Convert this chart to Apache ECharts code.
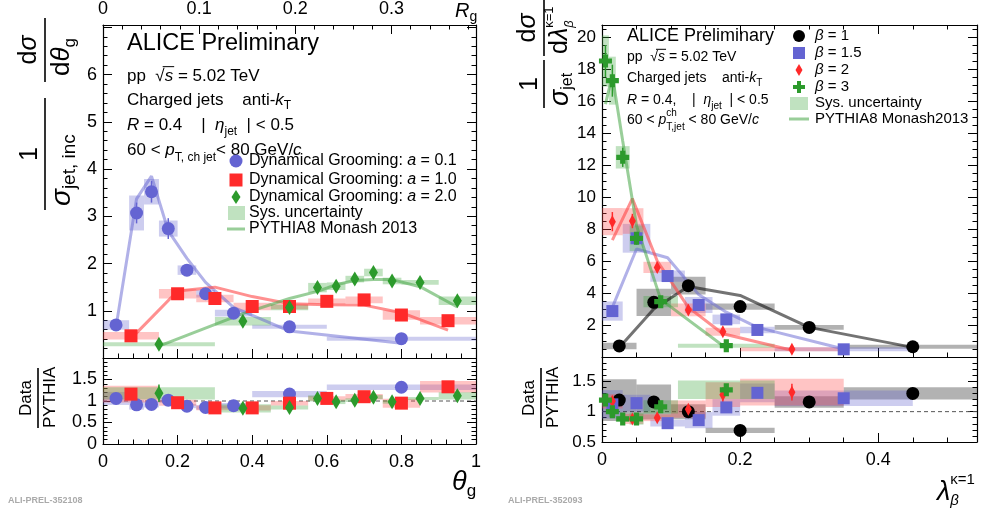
<!DOCTYPE html>
<html><head><meta charset="utf-8">
<script src="https://cdn.jsdelivr.net/npm/echarts@6/dist/echarts.min.js"></script>
<style>html,body{margin:0;padding:0;background:#fff}#c{width:982px;height:514px}</style>
</head><body><div id="c"></div>
<script>
// ---------- Dynamical grooming, theta_g (left) ----------
const a01Lo = [0, 0.07, 0.11, 0.15, 0.2, 0.25, 0.3, 0.4, 0.6];
const a01Hi = [0.07, 0.11, 0.15, 0.2, 0.25, 0.3, 0.4, 0.6, 1.0];
const a01X = [0.035, 0.09, 0.13, 0.175, 0.225, 0.275, 0.35, 0.5, 0.8];
const a01Y = [0.70, 3.07, 3.52, 2.74, 1.86, 1.36, 0.95, 0.66, 0.41];
const a01Stat = [0.04, 0.22, 0.23, 0.22, 0.09, 0.06, 0.04, 0.03, 0.02];
const a01Sys = [0.10, 0.37, 0.27, 0.17, 0.10, 0.08, 0.07, 0.04, 0.02];
const a01Pythia = [0.66, 3.37, 3.85, 2.69, 2.11, 1.6, 1.07, 0.57, 0.31];
const a01Ratio = [1.06, 0.91, 0.92, 1.02, 0.88, 0.85, 0.89, 1.16, 1.32];

const a10Lo = [0, 0.15, 0.25, 0.35, 0.45, 0.55, 0.65, 0.75, 0.85];
const a10Hi = [0.15, 0.25, 0.35, 0.45, 0.55, 0.65, 0.75, 0.85, 1.0];
const a10X = [0.075, 0.2, 0.3, 0.4, 0.5, 0.6, 0.7, 0.8, 0.925];
const a10Y = [0.47, 1.36, 1.26, 1.09, 1.09, 1.20, 1.23, 0.91, 0.79];
const a10Stat = [0.03, 0.05, 0.04, 0.04, 0.04, 0.04, 0.04, 0.04, 0.04];
const a10Sys = [0.08, 0.10, 0.08, 0.08, 0.06, 0.06, 0.07, 0.10, 0.08];
const a10Pythia = [0.41, 1.42, 1.5, 1.3, 1.15, 1.13, 1.12, 0.96, 0.59];
const a10Ratio = [1.16, 0.96, 0.84, 0.84, 0.95, 1.06, 1.10, 0.95, 1.33];

const a20Lo = [0, 0.3, 0.45, 0.55, 0.6, 0.65, 0.7, 0.75, 0.8, 0.9];
const a20Hi = [0.3, 0.45, 0.55, 0.6, 0.65, 0.7, 0.75, 0.8, 0.9, 1.0];
const a20X = [0.15, 0.375, 0.5, 0.575, 0.625, 0.675, 0.725, 0.775, 0.85, 0.95];
const a20Y = [0.29, 0.78, 1.07, 1.49, 1.52, 1.67, 1.81, 1.63, 1.60, 1.21];
const a20Stat = [0.05, 0.06, 0.06, 0.09, 0.09, 0.09, 0.10, 0.10, 0.07, 0.08];
const a20Sys = [0.035, 0.09, 0.06, 0.10, 0.08, 0.07, 0.08, 0.07, 0.05, 0.09];
const a20Pythia = [0.25, 0.94, 1.26, 1.41, 1.55, 1.64, 1.66, 1.66, 1.51, 1.08];
const a20Ratio = [1.18, 0.83, 0.85, 1.06, 0.98, 1.02, 1.09, 0.98, 1.06, 1.12];

// ---------- Angularities, lambda_beta (right) ----------
const b1Lo = [0, 0.05, 0.1, 0.15, 0.25, 0.35];
const b1Hi = [0.05, 0.1, 0.15, 0.25, 0.35, 0.55];
const b1X = [0.025, 0.075, 0.125, 0.2, 0.3, 0.45];
const b1Y = [0.69, 3.42, 4.46, 3.15, 1.85, 0.64];
const b1Stat = [0.05, 0.12, 0.12, 0.08, 0.05, 0.03];
const b1Sys = [0.2, 0.85, 0.55, 0.2, 0.15, 0.05];
const b1Pythia = [0.6, 3.0, 4.4, 3.85, 1.85, 0.6];
const b1Ratio = [1.19, 1.16, 1.0, 0.69, 1.16, 1.3];

const b15Lo = [0, 0.03, 0.07, 0.12, 0.16, 0.2, 0.25];
const b15Hi = [0.03, 0.07, 0.12, 0.16, 0.2, 0.25, 0.45];
const b15X = [0.015, 0.05, 0.095, 0.14, 0.18, 0.225, 0.35];
const b15Y = [2.87, 7.42, 5.06, 3.25, 2.35, 1.69, 0.48];
const b15Stat = [0.1, 0.15, 0.1, 0.08, 0.06, 0.05, 0.02];
const b15Sys = [0.6, 0.9, 0.35, 0.5, 0.3, 0.2, 0.05];
const b15Pythia = [3.1, 6.75, 6.2, 3.9, 2.8, 1.85, 0.5];
const b15Ratio = [1.12, 1.14, 0.81, 0.86, 1.07, 1.31, 1.22];

const b2Lo = [0, 0.03, 0.06, 0.1, 0.15, 0.2];
const b2Hi = [0.03, 0.06, 0.1, 0.15, 0.2, 0.35];
const b2X = [0.015, 0.044, 0.08, 0.125, 0.175, 0.275];
const b2Y = [8.46, 8.5, 5.6, 2.94, 1.58, 0.48];
const b2Stat = [0.6, 0.45, 0.3, 0.2, 0.15, 0.05];
const b2Sys = [0.85, 0.8, 0.35, 0.4, 0.25, 0.08];
const b2Pythia = [7.3, 9.9, 6.0, 3.1, 1.45, 0.42];
const b2Ratio = [1.17, 0.88, 0.9, 1.04, 1.28, 1.32];

const b3Lo = [0, 0.01, 0.02, 0.04, 0.06, 0.11];
const b3Hi = [0.01, 0.02, 0.04, 0.06, 0.11, 0.25];
const b3X = [0.005, 0.015, 0.03, 0.05, 0.085, 0.18];
const b3Y = [18.5, 17.27, 12.48, 7.42, 3.46, 0.71];
const b3Stat = [1.0, 1.0, 0.6, 0.4, 0.2, 0.05];
const b3Sys = [1.6, 1.5, 0.7, 0.8, 0.35, 0.08];
const b3Pythia = [15.8, 17.6, 13.5, 8.2, 3.6, 0.55];
const b3Ratio = [1.19, 1.0, 0.88, 0.88, 1.08, 1.36];

// axis ranges
const thetaRange = [0, 1];
const lambdaRange = [0, 0.543];

// ---------- drawing ----------
const FAMILY = "'Liberation Sans', Arial, Helvetica, sans-serif";
const chart = echarts.init(document.getElementById('c'), null, {renderer: 'canvas'});
const mctx = document.createElement('canvas').getContext('2d');
function fontOf(s) { return (s.it ? 'italic ' : '') + (s.b ? 'bold ' : '') + s.size + 'px ' + FAMILY; }
function tw(t, font) { mctx.font = font; return mctx.measureText(t).width; }

// lays out a sequence of text pieces along one row
function run(x, y, segs, out, defSize) {
  let cx = x;
  segs.forEach(s => {
    if (!s.size) s.size = defSize;
    const font = fontOf(s);
    if (s.t) {
      out.push({type: 'text', x: cx, y: y + (s.dy || 0), silent: true,
        style: {text: s.t, font: font, fill: s.c || '#000', textVerticalAlign: 'middle', verticalAlign: 'middle'}});
    }
    if (s.over) {
      out.push({type: 'line', silent: true, shape: {x1: cx - 2, y1: y - s.size * 0.55, x2: cx + tw(s.t, font) + 1, y2: y - s.size * 0.55}, style: {stroke: '#000', lineWidth: 1}});
    }
    if (!s.noAdvance) cx += tw(s.t || '', font) + (s.sp || 0);
  });
  return cx;
}
function runWidth(segs, defSize) {
  let w = 0;
  segs.forEach(s => { if (!s.noAdvance) w += tw(s.t || '', fontOf(Object.assign({size: defSize}, s))) + (s.sp || 0); });
  return w;
}
function runCentered(cx, y, segs, out, defSize) { return run(cx - runWidth(segs, defSize) / 2, y, segs, out, defSize); }

const BLUE = '#6464d2', RED = '#ff2a2a', GREEN = '#2c9a2c';
const BLUE_BOX = 'rgba(100,100,205,0.32)', RED_BOX = 'rgba(255,70,70,0.32)', GREEN_BOX = 'rgba(60,165,60,0.32)', BLACK_BOX = 'rgba(0,0,0,0.3)';
const BLUE_LINE = 'rgba(100,100,210,0.5)', RED_LINE = 'rgba(255,70,70,0.6)', GREEN_LINE = 'rgba(70,165,70,0.55)', BLACK_LINE = 'rgba(0,0,0,0.55)';
const CROSS = 'path://M3,0H7V3H10V7H7V10H3V7H0V3H3Z';

function boxSeries(xi, yi, lo, hi, val, sys, color, minH) {
  return {type: 'custom', xAxisIndex: xi, yAxisIndex: yi, clip: true, silent: true, z: 2, animation: false,
    data: lo.map((l, i) => [l, hi[i], val[i], sys[i]]),
    encode: {x: [0, 1], y: 2},
    renderItem: (p, api) => {
      const a = api.coord([api.value(0), api.value(2) + api.value(3)]);
      const b = api.coord([api.value(1), api.value(2) - api.value(3)]);
      let h = b[1] - a[1], y = a[1];
      if (h < minH) { y -= (minH - h) / 2; h = minH; }
      return {type: 'rect', shape: {x: a[0], y: y, width: b[0] - a[0], height: h}, style: {fill: color}};
    }};
}
function errSeries(xi, yi, x, val, err, color) {
  return {type: 'custom', xAxisIndex: xi, yAxisIndex: yi, clip: true, silent: true, z: 4, animation: false,
    data: x.map((xx, i) => [xx, val[i] - err[i], val[i] + err[i]]),
    encode: {x: 0, y: [1, 2]},
    renderItem: (p, api) => {
      const a = api.coord([api.value(0), api.value(1)]);
      const b = api.coord([api.value(0), api.value(2)]);
      return {type: 'line', shape: {x1: a[0], y1: a[1], x2: b[0], y2: b[1]}, style: {stroke: color, lineWidth: 1.5}};
    }};
}
function markSeries(xi, yi, x, val, symbol, size, color) {
  return {type: 'scatter', xAxisIndex: xi, yAxisIndex: yi, symbol: symbol, symbolSize: size, silent: true, z: 5,
    animation: false, itemStyle: {color: color, opacity: 1}, data: x.map((xx, i) => [xx, val[i]])};
}
function lineSeries(xi, yi, x, val, color) {
  return {type: 'line', xAxisIndex: xi, yAxisIndex: yi, symbol: 'none', silent: true, z: 3, animation: false,
    lineStyle: {color: color, width: 3}, data: x.map((xx, i) => [xx, val[i]])};
}
function ratioSys(val, sys, ratio) { return ratio.map((r, i) => r * sys[i] / val[i]); }

function dataset(xiM, yiM, xiR, yiR, lo, hi, x, y, stat, sys, py, ratio, sym, size, col, boxCol, lineCol, minH) {
  const rs = ratioSys(y, sys, ratio);
  const rstat = ratio.map((r, i) => r * stat[i] / y[i]);
  return {
    boxes: [boxSeries(xiM, yiM, lo, hi, y, sys, boxCol, minH), boxSeries(xiR, yiR, lo, hi, ratio, rs, boxCol, 3)],
    lines: [lineSeries(xiM, yiM, x, py, lineCol)],
    marks: [errSeries(xiM, yiM, x, y, stat, col), markSeries(xiM, yiM, x, y, sym, size, col),
            errSeries(xiR, yiR, x, ratio, rstat, col), markSeries(xiR, yiR, x, ratio, sym, size, col)]
  };
}

function minor(n) { return {show: true, splitNumber: n, length: 4.5, lineStyle: {color: '#000'}}; }
function xAxis(grid, min, max, interval, opt) {
  return Object.assign({type: 'value', gridIndex: grid, min: min, max: max, interval: interval,
    axisLine: {show: true, onZero: false, lineStyle: {color: '#000', width: 1.2}},
    axisTick: {show: true, inside: true, length: 9, lineStyle: {color: '#000'}},
    minorTick: minor(5), splitLine: {show: false}, minorSplitLine: {show: false},
    axisLabel: {show: false}}, opt || {});
}
function yAxis(grid, min, max, interval, opt) {
  return Object.assign({type: 'value', gridIndex: grid, min: min, max: max, interval: interval,
    axisLine: {show: true, onZero: false, lineStyle: {color: '#000', width: 1.2}},
    axisTick: {show: true, inside: true, length: 9, lineStyle: {color: '#000'}},
    minorTick: minor(5), splitLine: {show: false}, minorSplitLine: {show: false},
    axisLabel: {show: false}}, opt || {});
}
function lbl(extra) { return Object.assign({show: true, color: '#000', fontSize: 18, fontFamily: FAMILY, margin: 6}, extra); }
const numFmt = v => String(+v.toFixed(2));

const grids = [
  {left: 103, top: 25, width: 373, height: 333},
  {left: 103, top: 358, width: 373, height: 86},
  {left: 602, top: 25, width: 375, height: 332},
  {left: 602, top: 357, width: 375, height: 85}
];
const xAxes = [
  xAxis(0, thetaRange[0], thetaRange[1], 0.2),                                       // 0 left main bottom
  xAxis(0, 0, 0.388, 0.1, {position: 'top',
    axisLabel: lbl({margin: 7, showMaxLabel: false, formatter: numFmt})}),           // 1 R_g on top
  xAxis(1, thetaRange[0], thetaRange[1], 0.2, {axisLabel: lbl({margin: 9, formatter: numFmt})}), // 2 left ratio
  xAxis(2, lambdaRange[0], lambdaRange[1], 0.2, {minorTick: minor(4)}),             // 3 right main bottom
  xAxis(2, lambdaRange[0], lambdaRange[1], 0.2, {position: 'top', minorTick: minor(4)}), // 4 right main top
  xAxis(3, lambdaRange[0], lambdaRange[1], 0.2, {minorTick: minor(4),
    axisLabel: lbl({margin: 9, showMaxLabel: false, formatter: numFmt})})            // 5 right ratio
];
const yAxes = [
  yAxis(0, 0, 7.05, 1, {axisLabel: lbl({formatter: v => (v < 0.5 || v > 6.5 ? '' : String(v))})}), // 0
  yAxis(0, 0, 7.05, 1, {position: 'right'}),                                             // 1
  yAxis(1, 0, 2, 0.5, {axisLabel: lbl({formatter: numFmt, showMaxLabel: false})}),       // 2
  yAxis(1, 0, 2, 0.5, {position: 'right'}),                                              // 3
  yAxis(2, 0, 20.75, 2, {minorTick: minor(4),
    axisLabel: lbl({formatter: v => (v < 1 || v > 20.5 ? '' : String(v)), fontSize: 17})}), // 4
  yAxis(2, 0, 20.75, 2, {position: 'right', minorTick: minor(4)}),                     // 5
  yAxis(3, 0.5, 1.9, 0.5, {axisLabel: lbl({formatter: numFmt, showMaxLabel: false, fontSize: 17})}), // 6
  yAxis(3, 0.5, 1.9, 0.5, {position: 'right'})                                           // 7
];

const L1 = dataset(0, 0, 2, 2, a01Lo, a01Hi, a01X, a01Y, a01Stat, a01Sys, a01Pythia, a01Ratio, 'circle', 13, BLUE, BLUE_BOX, BLUE_LINE, 4);
const L2 = dataset(0, 0, 2, 2, a10Lo, a10Hi, a10X, a10Y, a10Stat, a10Sys, a10Pythia, a10Ratio, 'rect', 13, RED, RED_BOX, RED_LINE, 4);
const L3 = dataset(0, 0, 2, 2, a20Lo, a20Hi, a20X, a20Y, a20Stat, a20Sys, a20Pythia, a20Ratio, 'diamond', [9, 15], GREEN, GREEN_BOX, GREEN_LINE, 4);
const R1 = dataset(3, 4, 5, 6, b1Lo, b1Hi, b1X, b1Y, b1Stat, b1Sys, b1Pythia, b1Ratio, 'circle', 13, '#000', BLACK_BOX, BLACK_LINE, 4);
const R2 = dataset(3, 4, 5, 6, b15Lo, b15Hi, b15X, b15Y, b15Stat, b15Sys, b15Pythia, b15Ratio, 'rect', 12, BLUE, BLUE_BOX, BLUE_LINE, 4);
const R3 = dataset(3, 4, 5, 6, b2Lo, b2Hi, b2X, b2Y, b2Stat, b2Sys, b2Pythia, b2Ratio, 'diamond', [7, 13], RED, RED_BOX, RED_LINE, 4);
const R4 = dataset(3, 4, 5, 6, b3Lo, b3Hi, b3X, b3Y, b3Stat, b3Sys, b3Pythia, b3Ratio, CROSS, 13, GREEN, GREEN_BOX, GREEN_LINE, 4);

const unity = [
  {type: 'line', xAxisIndex: 2, yAxisIndex: 2, symbol: 'none', silent: true, z: 1, animation: false,
    lineStyle: {color: '#555', width: 1, type: [4, 3]}, data: [[thetaRange[0], 1], [thetaRange[1], 1]]},
  {type: 'line', xAxisIndex: 5, yAxisIndex: 6, symbol: 'none', silent: true, z: 1, animation: false,
    lineStyle: {color: '#555', width: 1, type: [4, 3]}, data: [[lambdaRange[0], 1], [lambdaRange[1], 1]]}
];

const sets = [L1, L2, L3, R1, R2, R3, R4];
const series = [].concat(unity,
  ...sets.map(s => s.boxes), ...sets.map(s => s.lines), ...sets.map(s => s.marks));

// ---------- text ----------
const G = [];
// left header
run(127, 44, [{t: 'ALICE Preliminary'}], G, 23.5);
run(127, 76, [{t: 'pp  '}, {t: '√'}, {t: 's', it: 1, over: 1}, {t: ' = 5.02 TeV'}], G, 17);
run(127, 100, [{t: 'Charged jets    anti-'}, {t: 'k', it: 1}, {t: 'T', size: 12, dy: 6}], G, 17);
run(127, 125, [{t: 'R', it: 1}, {t: ' = 0.4    |  '}, {t: 'η', it: 1}, {t: 'jet', size: 12, dy: 7}, {t: '  | < 0.5'}], G, 17);
run(127, 150, [{t: '60 < '}, {t: 'p', it: 1}, {t: 'T, ch jet', size: 12, dy: 8}, {t: '< 80 GeV/'}, {t: 'c', it: 1}], G, 17);
// left legend
function legRow(tx, y, symbol, segs, size) { G.push(symbol); run(tx, y, segs, G, size); }
legRow(249, 161, {type: 'circle', shape: {cx: 236, cy: 161, r: 6.5}, style: {fill: BLUE}, silent: true},
  [{t: 'Dynamical Grooming: '}, {t: 'a', it: 1}, {t: ' = 0.1'}], 16);
legRow(249, 180, {type: 'rect', shape: {x: 229.5, y: 173.5, width: 13, height: 13}, style: {fill: RED}, silent: true},
  [{t: 'Dynamical Grooming: '}, {t: 'a', it: 1}, {t: ' = 1.0'}], 16);
legRow(249, 197, {type: 'polygon', shape: {points: [[236, 190], [240.5, 197], [236, 204], [231.5, 197]]}, style: {fill: GREEN}, silent: true},
  [{t: 'Dynamical Grooming: '}, {t: 'a', it: 1}, {t: ' = 2.0'}], 16);
legRow(249, 213, {type: 'rect', shape: {x: 228, y: 206, width: 17, height: 14}, style: {fill: GREEN_BOX}, silent: true},
  [{t: 'Sys. uncertainty'}], 16);
legRow(249, 229, {type: 'line', shape: {x1: 227, y1: 229, x2: 245, y2: 229}, style: {stroke: GREEN_LINE, lineWidth: 3}, silent: true},
  [{t: 'PYTHIA8 Monash 2013'}], 16);

// right header
run(627, 36, [{t: 'ALICE Preliminary'}], G, 18);
run(627, 57, [{t: 'pp  '}, {t: '√'}, {t: 's', it: 1, over: 1}, {t: ' = 5.02 TeV'}], G, 14);
run(627, 78, [{t: 'Charged jets    anti-'}, {t: 'k', it: 1}, {t: 'T', size: 10, dy: 5}], G, 14);
run(627, 100, [{t: 'R', it: 1}, {t: ' = 0.4,    |  '}, {t: 'η', it: 1}, {t: 'jet', size: 10, dy: 6}, {t: '  | < 0.5'}], G, 14);
run(627, 120, [{t: '60 < '}, {t: 'p', it: 1}, {t: 'ch', size: 10, dy: -7, noAdvance: 1}, {t: 'T,jet', size: 10, dy: 7}, {t: ' < 80 GeV/'}, {t: 'c', it: 1}], G, 14);
// right legend
legRow(815, 36, {type: 'circle', shape: {cx: 799, cy: 36, r: 6}, style: {fill: '#000'}, silent: true},
  [{t: 'β', it: 1}, {t: ' = 1'}], 15);
legRow(815, 53, {type: 'rect', shape: {x: 793, y: 47, width: 12, height: 12}, style: {fill: BLUE}, silent: true},
  [{t: 'β', it: 1}, {t: ' = 1.5'}], 15);
legRow(815, 70, {type: 'polygon', shape: {points: [[799, 64], [802.5, 70], [799, 76], [795.5, 70]]}, style: {fill: RED}, silent: true},
  [{t: 'β', it: 1}, {t: ' = 2'}], 15);
legRow(815, 87, {type: 'polygon', shape: {points: [[797, 81], [801, 81], [801, 85], [805, 85], [805, 89], [801, 89], [801, 93], [797, 93], [797, 89], [793, 89], [793, 85], [797, 85]]}, style: {fill: GREEN}, silent: true},
  [{t: 'β', it: 1}, {t: ' = 3'}], 15);
legRow(815, 103, {type: 'rect', shape: {x: 790, y: 97, width: 18, height: 13}, style: {fill: GREEN_BOX}, silent: true},
  [{t: 'Sys. uncertainty'}], 15);
legRow(815, 119, {type: 'line', shape: {x1: 789, y1: 119, x2: 809, y2: 119}, style: {stroke: GREEN_LINE, lineWidth: 3}, silent: true},
  [{t: 'PYTHIA8 Monash2013'}], 15);

// axis titles
run(452, 482, [{t: 'θ', it: 1}, {t: 'g', size: 17, dy: 9}], G, 27);
run(455, 11, [{t: 'R', it: 1}, {t: 'g', size: 14, dy: 6}], G, 20);
run(937, 492, [{t: 'λ', it: 1}, {t: 'κ=1', size: 15, dy: -12, noAdvance: 1}, {t: 'β', it: 1, size: 15, dy: 9}], G, 27);
G.push({type: 'text', x: 8, y: 501, silent: true, style: {text: 'ALI-PREL-352108', font: 'bold 9px ' + FAMILY, fill: '#aaa', textVerticalAlign: 'middle', verticalAlign: 'middle'}});
G.push({type: 'text', x: 508, y: 501, silent: true, style: {text: 'ALI-PREL-352093', font: 'bold 9px ' + FAMILY, fill: '#aaa', textVerticalAlign: 'middle', verticalAlign: 'middle'}});

// rotated fraction titles: local x runs bottom->top on screen, local y runs left->right
function vgroup(px, py, children) { return {type: 'group', x: px, y: py, rotation: Math.PI / 2, silent: true, children: children}; }
function hbar(x1, x2, y) { return {type: 'line', shape: {x1: x1, y1: y, x2: x2, y2: y}, style: {stroke: '#000', lineWidth: 1.6}}; }
(function () {
  const c = [];
  // 1 / sigma_jet,inc
  runCentered(56, 30, [{t: '1'}], c, 25);
  c.push(hbar(0, 112, 45));
  run(4, 62, [{t: 'σ', it: 1}, {t: 'jet, inc', size: 19, dy: 8}], c, 28);
  // dsigma / dtheta_g
  runCentered(160, 29, [{t: 'd'}, {t: 'σ', it: 1}], c, 25);
  c.push(hbar(128, 192, 45));
  run(134, 62, [{t: 'd'}, {t: 'θ', it: 1}, {t: 'g', size: 17, dy: 8}], c, 26);
  G.push(vgroup(0, 210, c));
})();
(function () {
  const c = [];
  runCentered(30, 26, [{t: 'Data'}], c, 17);
  c.push(hbar(0, 60, 38));
  run(0, 50, [{t: 'PYTHIA'}], c, 17);
  G.push(vgroup(0, 428, c));
})();
(function () {
  const c = [];
  runCentered(24, 33, [{t: '1'}], c, 25);
  c.push(hbar(0, 48, 47));
  run(2, 63, [{t: 'σ', it: 1}, {t: 'jet', size: 16, dy: 8}], c, 27);
  runCentered(80, 31, [{t: 'd'}, {t: 'σ', it: 1}], c, 25);
  c.push(hbar(52, 108, 47));
  run(54, 63, [{t: 'd'}, {t: 'λ', it: 1}, {t: 'κ=1', size: 13, dy: -11, noAdvance: 1}, {t: 'β', it: 1, size: 13, dy: 9}], c, 25);
  G.push(vgroup(497, 108, c));
})();
(function () {
  const c = [];
  runCentered(30, 26, [{t: 'Data'}], c, 17);
  c.push(hbar(0, 60, 38));
  run(0, 50, [{t: 'PYTHIA'}], c, 17);
  G.push(vgroup(503, 428, c));
})();

chart.setOption({
  animation: false,
  backgroundColor: '#fff',
  grid: grids,
  xAxis: xAxes,
  yAxis: yAxes,
  series: series,
  graphic: {elements: G}
});
</script></body></html>
